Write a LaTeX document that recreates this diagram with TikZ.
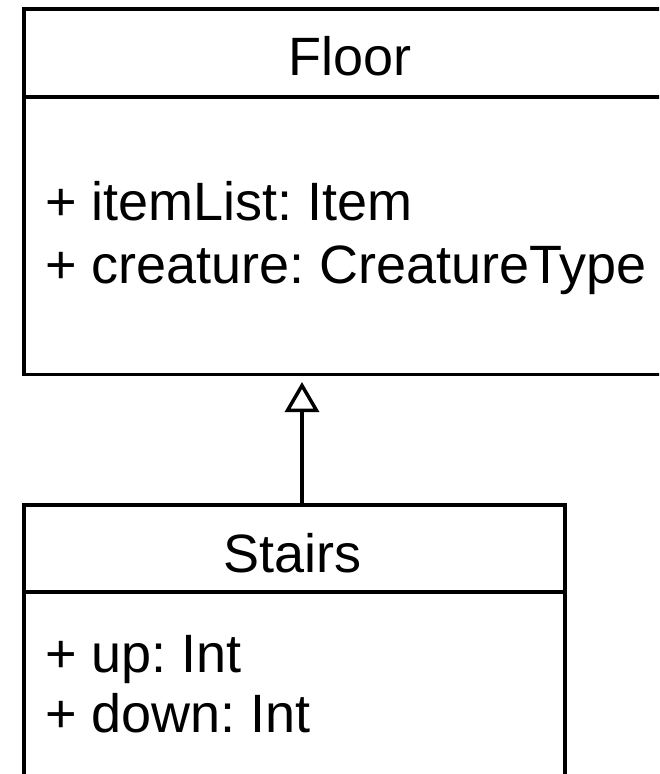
\documentclass[tikz,border=0pt]{standalone}
\usepackage{fontspec}
\setmainfont{Liberation Sans}
\usetikzlibrary{arrows.meta,calc}
\frenchspacing
\begin{document}
\begin{tikzpicture}[x=1pt,y=-1pt,
  umlbox/.style={draw=black,line width=3.5pt,rectangle,anchor=north west,inner sep=0pt},
  sepline/.style={draw=black,line width=3.5pt},
  lbl/.style={inner sep=0pt,font=\fontsize{54}{60}\selectfont,text=black},
  inherit/.style={draw=black,line width=3.5pt,-{Triangle[open,length=30pt,width=34pt,line width=3.5pt]},shorten >=6pt}]
\useasboundingbox (0,0) rectangle (659,774);
\clip (0,0) rectangle (659,774);
% Floor class
\node[umlbox,minimum width=656pt,minimum height=365.5pt] (floor) at (22,7) {};
\coordinate (fsep) at (0,97);
\draw[sepline] (floor.west |- fsep) -- (floor.east |- fsep);
\node[lbl,anchor=base] (floortitle) at (350,75) {Floor};
\node[lbl,anchor=base west] (fattr1) at (45,220) {+ itemList: Item};
\node[lbl,anchor=base west] (fattr2) at (45,283) {+ creature: CreatureType};
% Stairs class
\node[umlbox,minimum width=541pt,minimum height=300pt] (stairs) at (22,503) {};
\coordinate (ssep) at (0,592);
\draw[sepline] (stairs.west |- ssep) -- (stairs.east |- ssep);
\node[lbl,anchor=base] (stairstitle) at (292.5,572) {Stairs};
\node[lbl,anchor=base west] (sattr1) at (45,672) {+ up: Int};
\node[lbl,anchor=base west] (sattr2) at (45,732) {+ down: Int};
% generalization
\coordinate (ax) at (302,0);
\draw[inherit] (stairs.north -| ax) -- (floor.south -| ax);
\end{tikzpicture}
\end{document}
